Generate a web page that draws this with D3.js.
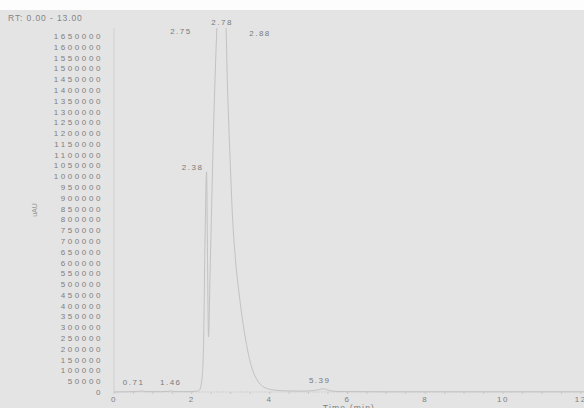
<!DOCTYPE html>
<html>
<head>
<meta charset="utf-8">
<script src="https://cdn.jsdelivr.net/npm/d3@7"></script>
<style>
	body{margin:0;background:#fff;}
	#chart{width:584px;height:408px;}
</style>
</head>
<body>
<div id="chart"></div>
<script>

// trace: time (min) and signal (uAU)
const times = [0, 0.3, 0.6, 0.71, 0.8, 1.2, 1.4, 1.46, 1.55, 1.9, 2.1, 2.2, 2.26, 2.3, 2.34, 2.38, 2.4, 2.43, 2.47, 2.58, 2.68, 2.75, 2.78, 2.86, 2.92, 2.98, 3.05, 3.12, 3.22, 3.35, 3.5, 3.7, 3.95, 4.3, 4.8, 5.1, 5.25, 5.39, 5.55, 5.8, 7, 9, 11, 13];
const signal = [0, 1000, 2000, 5000, 2000, 1500, 3000, 5000, 2000, 1500, 3000, 10000, 60000, 200000, 700000, 1020000, 700000, 255000, 550000, 1350000, 1780000, 1820000, 1840000, 1780000, 1400000, 1100000, 800000, 620000, 450000, 280000, 140000, 50000, 15000, 6000, 4000, 6000, 10000, 15000, 6000, 2000, 1000, 1000, 1000, 1000];

const peakTimes = [0.71, 1.46, 2.38, 2.75, 2.78, 2.88, 5.39];
const peakLabels = ["0.71", "1.46", "2.38", "2.75", "2.78", "2.88", "5.39"];

const yTicks = d3.range(0, 1650001, 50000);
const xTicks = [0, 2, 4, 6, 8, 10, 12];

function drawChrom(rootDOM){

	const W = rootDOM.clientWidth;
	const H = rootDOM.clientHeight;

	const x = d3.scaleLinear()
		.domain([0,13])
		.range([114, 114 + 13*38.9]);

	const y = d3.scaleLinear()
		.domain([0,1650000])
		.range([392, 36]);

	const svg = d3.select(rootDOM)
		.append("svg")
		.attr("width", W)
		.attr("height", H)
		.style("font-family", "'Liberation Sans', Arial, sans-serif");

	svg.append("rect")
		.attr("width", W)
		.attr("height", H)
		.attr("fill", "#e4e4e4");

	svg.append("rect")
		.attr("width", W)
		.attr("height", 10)
		.attr("fill", "#fdfdfd");

	svg.append("text")
		.attr("x", 8)
		.attr("y", 21)
		.attr("font-size", 8.5)
		.attr("letter-spacing", 0.9)
		.attr("fill", "#858585")
		.text("RT: 0.00 - 13.00");

	// y axis
	svg.append("line")
		.attr("x1", 114).attr("x2", 114)
		.attr("y1", 28).attr("y2", 392)
		.attr("stroke", "#d0d0d0");

	svg.selectAll(".ytick")
		.data(yTicks)
		.enter()
		.append("text")
		.attr("class", "ytick")
		.attr("x", 103)
		.attr("y", d => y(d) + 3)
		.attr("text-anchor", "end")
		.attr("font-size", 8)
		.attr("letter-spacing", 2.6)
		.attr("fill", "#7e7e7e")
		.text(d => d);

	svg.append("text")
		.attr("transform", "translate(37,210) rotate(-90)")
		.attr("text-anchor", "middle")
		.attr("font-size", 7)
		.attr("fill", "#999")
		.text("uAU");

	// x axis
	svg.append("line")
		.attr("x1", 114).attr("x2", W)
		.attr("y1", 392).attr("y2", 392)
		.attr("stroke", "#cfcfcf")
		.attr("stroke-dasharray", "2,1");

	svg.selectAll(".mtick")
		.data(d3.range(0, 13.01, 0.5))
		.enter()
		.append("line")
		.attr("class", "mtick")
		.attr("x1", d => x(d)).attr("x2", d => x(d))
		.attr("y1", 392).attr("y2", 394)
		.attr("stroke", "#c8c8c8");

	svg.selectAll(".xtick")
		.data(xTicks)
		.enter()
		.append("text")
		.attr("class", "xtick")
		.attr("x", d => x(d))
		.attr("y", 401.5)
		.attr("text-anchor", "middle")
		.attr("font-size", 8)
		.attr("letter-spacing", 1.5)
		.attr("fill", "#7e7e7e")
		.text(d => d);

	svg.append("text")
		.attr("x", 349)
		.attr("y", 410.5)
		.attr("text-anchor", "middle")
		.attr("font-size", 8.5)
		.attr("letter-spacing", 1.2)
		.attr("fill", "#7e7e7e")
		.text("Time (min)");

	// trace
	svg.append("clipPath")
		.attr("id", "clip")
		.append("rect")
		.attr("x", 114).attr("y", 28)
		.attr("width", W).attr("height", 370);

	const line = d3.line()
		.x((d,i) => x(times[i]))
		.y(d => y(d))
		.curve(d3.curveMonotoneX);

	svg.append("path")
		.datum(signal)
		.attr("clip-path", "url(#clip)")
		.attr("d", line)
		.attr("fill", "none")
		.attr("stroke", "#c2c2c2")
		.attr("stroke-width", 1);

	// peak labels, nudged like the instrument software does
	const nudge = {"0.71":[-8,-6], "1.46":[0,-6], "2.38":[-14,-2], "2.75":[-40,0], "2.78":[0,0], "2.88":[34,0], "5.39":[-4,-6]};
	const topY = {"2.75":34, "2.78":25, "2.88":36};

	svg.selectAll(".plabel")
		.data(peakTimes)
		.enter()
		.append("text")
		.attr("class", "plabel")
		.attr("x", (d,i) => x(d) + nudge[peakLabels[i]][0])
		.attr("y", (d,i) => {
			const lab = peakLabels[i];
			if (topY[lab]) return topY[lab];
			const v = signal[times.indexOf(d)];
			return y(v) + nudge[lab][1];
		})
		.attr("text-anchor", "middle")
		.attr("font-size", 8)
		.attr("letter-spacing", 1.5)
		.attr("fill", "#7a7a7a")
		.text((d,i) => peakLabels[i]);
}

drawChrom(document.getElementById("chart"));
</script>
</body>
</html>
